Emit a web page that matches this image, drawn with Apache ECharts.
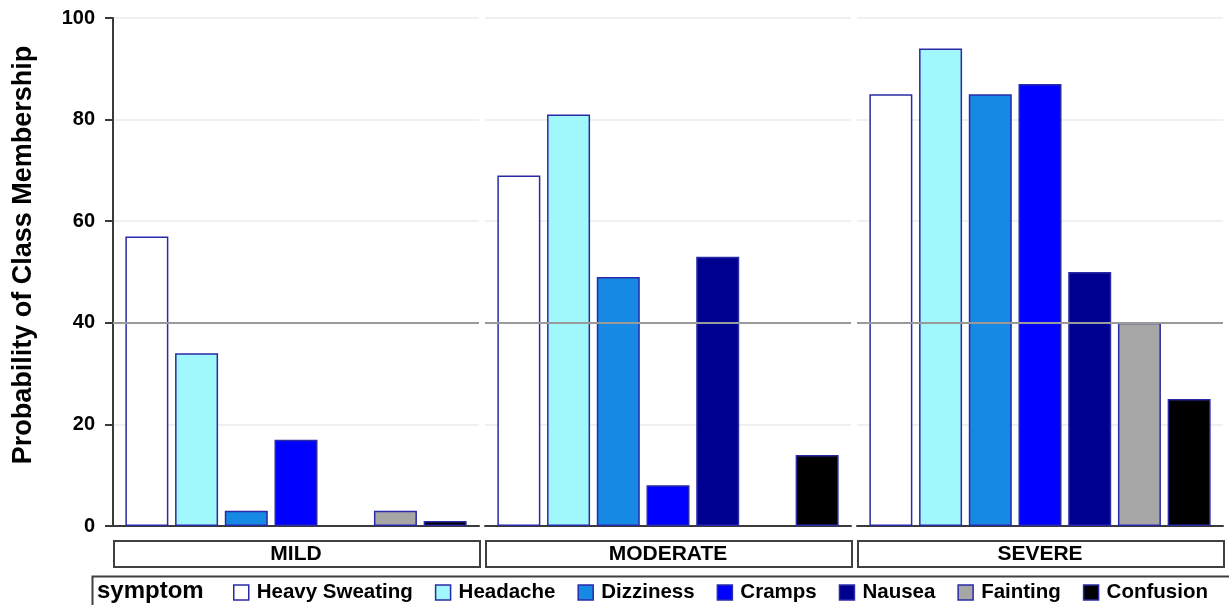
<!DOCTYPE html>
<html>
<head>
<meta charset="utf-8">
<script src="https://cdn.jsdelivr.net/npm/echarts@6/dist/echarts.min.js"></script>
<style>
html,body{margin:0;padding:0;background:#fff;}
#c{width:1229px;height:605px;}
</style>
</head>
<body>
<div id="c"></div>
<script>
const panels = ['MILD', 'MODERATE', 'SEVERE'];
const symptoms = ['Heavy Sweating', 'Headache', 'Dizziness', 'Cramps', 'Nausea', 'Fainting', 'Confusion'];
const mildValues = [57, 34, 3, 17, 0, 3, 1];
const moderateValues = [69, 81, 49, 8, 53, 0, 14];
const severeValues = [85, 94, 85, 87, 50, 40, 25];
const yTicks = [0, 20, 40, 60, 80, 100];
const refValue = 40;
const colors = ['#ffffff', '#a0f8fc', '#1589e3', '#0000ff', '#000090', '#a6a6a6', '#000000'];

const panelValues = [mildValues, moderateValues, severeValues];
const FONT = "'Liberation Sans', Arial, sans-serif";
const P0 = 113, PW = 366, PSTEP = 372, TOP = 18, H = 508;

const grid = [], xAxis = [], yAxis = [], series = [], graphic = [];

panels.forEach((p, i) => {
  const left = P0 + i * PSTEP;
  // frame grid
  grid.push({left: left, top: TOP, width: PW, height: H});
  xAxis.push({type: 'value', gridIndex: 2 * i, min: 0, max: 1, show: true,
    axisLine: {show: true, onZero: false, lineStyle: {color: '#3a3a3a', width: 2}},
    axisTick: {show: false}, axisLabel: {show: false}, splitLine: {show: false}});
  yAxis.push({type: 'value', gridIndex: 2 * i, min: yTicks[0], max: yTicks[yTicks.length - 1], interval: 20,
    axisLine: {show: i === 0, lineStyle: {color: '#3a3a3a', width: 2}},
    axisTick: {show: i === 0, length: 8, lineStyle: {color: '#3a3a3a', width: 2}},
    axisLabel: {show: i === 0, margin: 18, color: '#000', fontFamily: FONT, fontWeight: 'bold', fontSize: 20},
    splitLine: {show: true, lineStyle: {color: '#ebebeb', width: 1.5}}});
  // bar grid
  grid.push({left: left + 9, top: TOP, width: 348, height: H});
  xAxis.push({type: 'category', gridIndex: 2 * i + 1, data: symptoms, show: false});
  yAxis.push({type: 'value', gridIndex: 2 * i + 1, min: 0, max: 100, show: false});

  series.push({type: 'line', name: 'ref' + i, xAxisIndex: 2 * i, yAxisIndex: 2 * i, data: [], z: 10,
    silent: true,
    markLine: {silent: true, symbol: 'none', label: {show: false}, animation: false,
      lineStyle: {color: '#9a9a9a', width: 2, type: 'solid'}, data: [{yAxis: refValue}]}});

  symptoms.forEach((s, k) => {
    const data = symptoms.map((_, j) => {
      if (j !== k) return '-';
      const v = panelValues[i][k];
      return v === 0 ? {value: v, itemStyle: {borderWidth: 0, opacity: 0}} : v;
    });
    series.push({type: 'bar', name: s, xAxisIndex: 2 * i + 1, yAxisIndex: 2 * i + 1,
      data: data, barWidth: 43, barGap: '-100%', z: 2, animation: false,
      itemStyle: {color: colors[k], borderColor: '#2a2aa8', borderWidth: 1.5}});
  });

  graphic.push({type: 'rect', left: left, top: 540, shape: {width: PW, height: 26},
    style: {fill: '#fff', stroke: '#404040', lineWidth: 2}});
  graphic.push({type: 'text', x: left + PW / 2, y: 554,
    style: {text: p, fill: '#000', font: 'bold 21px ' + FONT, textAlign: 'center', textVerticalAlign: 'middle'}});
});

graphic.push({type: 'rect', left: 90, top: 574, shape: {x: 0, y: 0, width: 1170, height: 50},
  style: {fill: 'none', stroke: '#404040', lineWidth: 2}});
graphic.push({type: 'text', x: 97, y: 591,
  style: {text: 'symptom', fill: '#000', font: 'bold 24px ' + FONT, textVerticalAlign: 'middle'}});
graphic.push({type: 'text', x: 24, y: 255, rotation: Math.PI / 2,
  style: {text: 'Probability of Class Membership', fill: '#000', font: 'bold 27px ' + FONT,
    textAlign: 'center', textVerticalAlign: 'middle'}});

const chart = echarts.init(document.getElementById('c'), null, {renderer: 'canvas'});
chart.setOption({
  animation: false,
  backgroundColor: '#fff',
  grid: grid, xAxis: xAxis, yAxis: yAxis, series: series,
  legend: {data: symptoms, left: 233, top: 582, padding: 0, icon: 'rect', itemWidth: 15, itemHeight: 15, itemGap: 22,
    selectedMode: false,
    itemStyle: {borderColor: '#2a2aa8', borderWidth: 1.5},
    textStyle: {color: '#000', fontFamily: FONT, fontWeight: 'bold', fontSize: 20.5, padding: [0, 0, 0, 3]}},
  graphic: graphic
});
</script>
</body>
</html>
